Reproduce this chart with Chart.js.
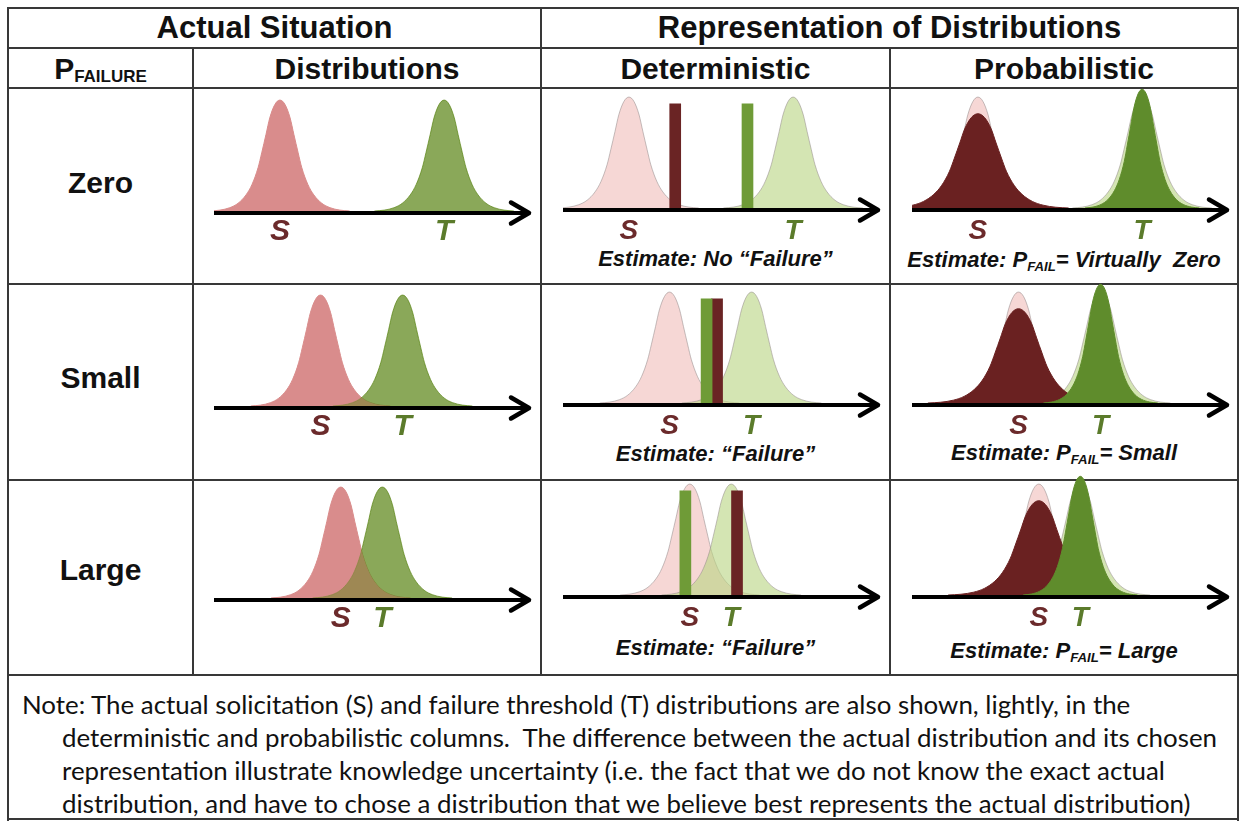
<!DOCTYPE html>
<html>
<head>
<meta charset="utf-8">
<title>Actual situation vs representation of distributions</title>
<script src="https://cdn.jsdelivr.net/npm/chart.js@4.4.1/dist/chart.umd.min.js"></script>
<style>
  html, body { margin: 0; padding: 0; background: #fff; }
  #fig { position: relative; width: 1241px; height: 825px; overflow: hidden;
         font-family: "Liberation Sans", Arial, Helvetica, sans-serif; color: #111; }
  .rule { position: absolute; background: #383838; }
  .head { position: absolute; font-weight: bold; text-align: center; white-space: nowrap;
          font-size: 30px; line-height: 30px; height: 30px; }
  .est { position: absolute; font-weight: bold; font-style: italic; text-align: center;
         white-space: pre; font-size: 22px; line-height: 22px; height: 22px; }
  .head sub, .est sub { font-size: 0.6em; vertical-align: -0.28em; line-height: 0; }
  .note { position: absolute; white-space: pre; font-family: Lato, "Open Sans", sans-serif; color: #111; }
  canvas { position: absolute; }
</style>
</head>
<body>
<div id="fig"></div>
<script>
// ---- texts ----
const headTop = ['Actual Situation', 'Representation of Distributions'];
const headCols = ['Distributions', 'Deterministic', 'Probabilistic'];
const rowNames = ['Zero', 'Small', 'Large'];
const detEstimates = ['No \u201cFailure\u201d', '\u201cFailure\u201d', '\u201cFailure\u201d'];
const probEstimates = ['Virtually  Zero', 'Small', 'Large'];
const noteLines = [
  'Note: The actual solicitation (S) and failure threshold (T) distributions are also shown, lightly, in the',
  'deterministic and probabilistic columns.  The difference between the actual distribution and its chosen',
  'representation illustrate knowledge uncertainty (i.e. the fact that we do not know the exact actual',
  'distribution, and have to chose a distribution that we believe best represents the actual distribution)'
];

// ---- data ----
// shape of one distribution, read off the pink curve of the top-left cell:
// offset from the mode (axis units, axis runs 0..100) and height relative to the mode
const profileX = [-22, -18.9, -15.8, -13.2, -10.7, -8.8, -6.9, -5.7, -4.4, -3.2, -1.6, 0,
                  1.6, 3.2, 4.4, 5.7, 6.9, 8.8, 10.7, 13.2, 15.8, 18.9, 22];
const profileY = [0, 0.008, 0.03, 0.07, 0.145, 0.24, 0.39, 0.53, 0.69, 0.84, 0.96, 1,
                  0.96, 0.84, 0.69, 0.53, 0.39, 0.24, 0.145, 0.07, 0.03, 0.008, 0];

// modes of the actual solicitation (S) and threshold (T), one per row
const actualS = [20.8, 33.6, 40.0];
const actualT = [72.6, 59.5, 53.1];

// deterministic point estimates (bars) and their height
const detS = [35.4, 48.6, 54.9];
const detT = [58.2, 45.3, 38.6];
const detHeight = [0.94, 0.94, 0.94];

// probabilistic representation, relative to the actual curve: [S, T]
const probWidth = [1.3, 0.82];
const probPeak = [0.85, 1.07];

const C = {
  sLabel: '#6b2a2b', tLabel: '#5b7b2b',
  sFill: '#d98d8c', tFill: 'rgba(88,131,19,0.7)', sTint: 'rgba(217,141,140,0.35)',
  sLight: '#f6d7d5', tLight: 'rgba(185,213,132,0.62)', edge: 'rgba(150,140,140,0.55)',
  sDark: '#6a2121', tDark: '#5f8c2c',
  barS: '#6a2424', barT: '#6f9b37'
};

// ---- layout ----
const axisLeft = [214, 563, 912];
const axisLen = 317;
const axisY = [[213, 210, 210], [408, 405, 405], [600, 597, 597]];
const PLOT_H = 122;
const TICK_H = 40;

const fig = document.getElementById('fig');

function rule(x, y, w, h) {
  const d = document.createElement('div');
  d.className = 'rule';
  d.style.cssText = 'left:' + x + 'px;top:' + y + 'px;width:' + w + 'px;height:' + h + 'px';
  fig.appendChild(d);
}

function text(cls, html, left, width, cy, size) {
  const d = document.createElement('div');
  d.className = cls;
  d.innerHTML = html;
  const s = size || (cls === 'est' ? 22 : 30);
  d.style.left = left + 'px';
  d.style.width = width + 'px';
  d.style.fontSize = s + 'px';
  d.style.lineHeight = s + 'px';
  d.style.height = s + 'px';
  d.style.top = (cy - s / 2) + 'px';
  fig.appendChild(d);
}

// table rules
[8, 48, 88, 284, 480, 675, 819].forEach(y => rule(8, y - 1, 1231, 2));
rule(7, 7, 2, 814);
rule(1237, 7, 2, 814);
rule(540, 7, 2, 669);
rule(192, 47, 2, 629);
rule(889, 47, 2, 629);

// headers
text('head', headTop[0], 8, 533, 27.5, 31);
text('head', headTop[1], 541, 697, 27.5, 31);
text('head', 'P<sub style="font-size:17px;vertical-align:-3px">FAILURE</sub>', 8, 185, 68.5);
text('head', headCols[0], 193, 348, 68.5);
text('head', headCols[1], 541, 349, 68.5);
text('head', headCols[2], 890, 348, 68.5);
[183, 378, 570].forEach((y, r) => text('head', rowNames[r], 8, 185, y));

// estimates
const estY = [[259, 260], [454, 453], [648, 651]];
rowNames.forEach((n, r) => {
  text('est', 'Estimate: ' + detEstimates[r], 541, 349, estY[r][0]);
  text('est', 'Estimate: P<sub>FAIL</sub>= ' + probEstimates[r], 890, 348, estY[r][1]);
});

// note, sized so the second line fills its width as in the original
const probe = document.createElement('canvas').getContext('2d');
probe.font = '22px Lato, "Open Sans", sans-serif';
const noteSize = 22 * 1156 / probe.measureText(noteLines[1]).width;
noteLines.forEach((t, i) => {
  const d = document.createElement('div');
  d.className = 'note';
  d.textContent = t;
  d.style.left = (i === 0 ? 22 : 62) + 'px';
  d.style.fontSize = noteSize.toFixed(2) + 'px';
  d.style.lineHeight = '33px';
  d.style.top = (688 + i * 33) + 'px';
  fig.appendChild(d);
});

// ---- charts ----
function curve(mode, width, peak) {
  return profileX.map((dx, i) => ({ x: mode + dx * width, y: profileY[i] * peak }));
}

function area(points, fill, edge, bw) {
  return {
    type: 'line', data: points, fill: 'origin',
    backgroundColor: fill, borderColor: edge || fill, borderWidth: bw === undefined ? 1 : bw,
    pointRadius: 0, cubicInterpolationMode: 'monotone'
  };
}

const arrowAxis = {
  id: 'arrowAxis',
  afterDatasetsDraw(chart) {
    const { ctx, chartArea: a } = chart;
    const y = a.bottom + 2;
    ctx.save();
    ctx.strokeStyle = '#000';
    ctx.lineWidth = 4;
    ctx.beginPath();
    ctx.moveTo(a.left, y);
    ctx.lineTo(a.right - 3, y);
    ctx.stroke();
    ctx.lineWidth = 4.5;
    ctx.lineCap = 'round';
    ctx.lineJoin = 'round';
    ctx.beginPath();
    ctx.moveTo(a.right - 20, y - 10.5);
    ctx.lineTo(a.right - 2, y);
    ctx.lineTo(a.right - 20, y + 10.5);
    ctx.stroke();
    ctx.restore();
  }
};

function makeChart(r, c) {
  const canvas = document.createElement('canvas');
  canvas.width = axisLen + 6;
  canvas.height = PLOT_H + TICK_H;
  canvas.style.left = axisLeft[c] + 'px';
  canvas.style.top = (axisY[r][c] - 2 - PLOT_H) + 'px';
  fig.appendChild(canvas);

  let sets;
  if (c === 0) {
    sets = [
      area(curve(actualS[r], 1, 1), C.sFill),
      area(curve(actualT[r], 1, 1), C.tFill),
      // faint pink veil so the overlap turns brownish, as in the original
      area(curve(actualS[r], 1, 1), C.sTint, C.sTint, 0)
    ];
  } else if (c === 1) {
    sets = [
      area(curve(actualS[r], 1, 1), C.sLight, C.edge),
      area(curve(actualT[r], 1, 1), C.tLight, C.edge),
      {
        type: 'bar',
        data: [{ x: detS[r], y: detHeight[r] }, { x: detT[r], y: detHeight[r] }],
        backgroundColor: [C.barS, C.barT], borderWidth: 0, barThickness: 11
      }
    ];
  } else {
    sets = [
      area(curve(actualS[r], 1, 1), C.sLight, C.edge),
      area(curve(actualT[r], 1, 1), C.tLight, C.edge),
      area(curve(actualS[r], probWidth[0], probPeak[0]), C.sDark),
      area(curve(actualT[r], probWidth[1], probPeak[1]), C.tDark)
    ];
  }
  // later entries are painted on top
  sets.forEach((d, i) => { d.order = sets.length - i; });

  const labelColor = [C.sLabel, C.tLabel];
  new Chart(canvas, {
    type: 'line',
    data: { datasets: sets },
    options: {
      responsive: false,
      animation: false,
      events: [],
      layout: { padding: { left: 0, right: 6, top: 0, bottom: 0 } },
      plugins: { legend: { display: false }, tooltip: { enabled: false } },
      scales: {
        x: {
          type: 'linear', min: 0, max: 100, offset: false,
          grid: { display: false, drawTicks: false },
          border: { display: false },
          afterBuildTicks: s => { s.ticks = [{ value: actualS[r] }, { value: actualT[r] }]; },
          afterFit: s => { s.height = TICK_H; },
          ticks: {
            autoSkip: false, maxRotation: 0,
            padding: c === 0 ? 3 : 6,
            color: ctx => labelColor[ctx.index],
            font: { family: '"Liberation Sans", Arial, sans-serif', size: c === 0 ? 30 : 28,
                    weight: 'bold', style: 'italic', lineHeight: 1.2 },
            callback: (v, i) => ['S', 'T'][i]
          }
        },
        y: { display: false, min: 0, max: 1.1 }
      }
    },
    plugins: [arrowAxis]
  });
}

for (let r = 0; r < 3; r++) {
  for (let c = 0; c < 3; c++) makeChart(r, c);
}
</script>
</body>
</html>
